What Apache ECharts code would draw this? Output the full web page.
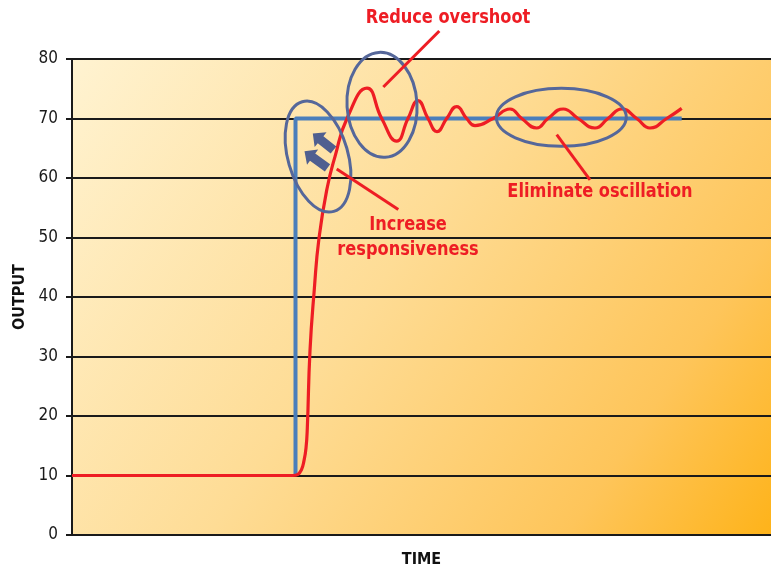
<!DOCTYPE html>
<html>
<head>
<meta charset="utf-8">
<script src="https://cdn.jsdelivr.net/npm/echarts@6/dist/echarts.min.js"></script>
<style>
html,body{margin:0;padding:0;background:#fff;overflow:hidden;}
#main{width:771px;height:573px;}
</style>
</head>
<body>
<div id="main"></div>
<script>
// ---- data ----
const yTicks = [0, 10, 20, 30, 40, 50, 60, 70, 80];
// process response (time, output)
const responseT = [0, 221, 226, 229.5, 232, 234, 235.3, 238, 242.3, 247, 255, 263, 275, 295,
  309.7, 324.7, 336, 346, 356, 365, 374.7, 384.7, 394.7, 403, 421, 438, 449.7, 464.7, 476, 491.3,
  506, 523, 536, 549.7, 564.7, 578, 594.7, 609.7];
const responseV = [10, 10, 10.2, 11, 12.5, 14.6, 17.9, 31, 41.3, 49.9, 58.2, 63.6, 70, 75.1,
  70, 66.2, 70, 73, 70, 67.8, 70, 72, 70, 68.8, 70, 71.6, 70, 68.4, 70, 71.6,
  70, 68.4, 70, 71.6, 70, 68.4, 70, 71.7];
// setpoint step
const setpointT = [223.5, 223.5, 609.7];
const setpointV = [10, 70, 70];

// annotations (data coordinates)
const labels = [
  { text: 'Reduce overshoot', at: [376, 87.0] },
  { text: 'Increase', at: [336, 52.2] },
  { text: 'responsiveness', at: [336, 48.0] },
  { text: 'Eliminate oscillation', at: [528, 57.6] }
];
const leaders = [
  [[311.3, 75.3], [367.3, 84.7]],
  [[264.7, 61.5], [326.3, 54.7]],
  [[484.7, 67.3], [518, 59.7]]
];
const ellipses = [
  { at: [246, 63.6], rx: 30, ry: 57, rot: 0.28 },
  { at: [310, 72.3], rx: 35, ry: 52.5, rot: 0.06 },
  { at: [489.3, 70.2], rx: 65, ry: 29, rot: 0 }
];
const arrows = [
  { tail: [261.5, 64.7], tip: [240.8, 67.5] },
  { tail: [255.5, 61.7], tip: [232.5, 64.5] }
];

const FONT = "'DejaVu Sans Condensed', 'DejaVu Sans', sans-serif";
const RED = '#ee1d24';
const ELL = '#55679a';

const chart = echarts.init(document.getElementById('main'));
const option = {
  animation: false,
  backgroundColor: '#ffffff',
  grid: {
    left: 72, right: 0, top: 59, bottom: 35,
    show: true, borderWidth: 0,
    backgroundColor: new echarts.graphic.LinearGradient(0, 0, 1, 1, [
      { offset: 0, color: '#fff3d1' },
      { offset: 0.45, color: '#fedc95' },
      { offset: 0.8, color: '#fec55a' },
      { offset: 1, color: '#feb31a' }
    ])
  },
  xAxis: {
    type: 'value', min: 0, max: 699,
    name: 'TIME', nameLocation: 'middle', nameGap: 17,
    nameTextStyle: { fontFamily: FONT, fontWeight: 'bold', fontSize: 16, color: '#111' },
    axisLine: { show: true, lineStyle: { color: '#1a1a1a', width: 2 } },
    axisTick: { show: false }, axisLabel: { show: false }, splitLine: { show: false }
  },
  yAxis: {
    type: 'value', min: 0, max: 80, interval: 10,
    name: 'OUTPUT', nameLocation: 'middle', nameGap: 43, nameRotate: 90,
    nameTextStyle: { fontFamily: FONT, fontWeight: 'bold', fontSize: 16, color: '#111' },
    axisLine: { show: true, lineStyle: { color: '#1a1a1a', width: 2 } },
    axisTick: { show: true, length: 6, lineStyle: { color: '#1a1a1a', width: 2 } },
    axisLabel: { fontFamily: FONT, fontSize: 17, color: '#1a1a1a', margin: 14,
      formatter: v => yTicks.includes(v) ? String(v) : '' },
    splitLine: { show: true, lineStyle: { color: '#1a1a1a', width: 2 } }
  },
  series: [
    {
      name: 'Setpoint', type: 'line', symbol: 'none',
      data: setpointT.map((t, i) => [t, setpointV[i]]),
      lineStyle: { color: '#4a7ebb', width: 4 }, z: 2
    },
    {
      name: 'Response', type: 'line', symbol: 'none', smooth: 0.5,
      data: responseT.map((t, i) => [t, responseV[i]]),
      lineStyle: { color: RED, width: 3.2 }, z: 3
    }
  ]
};
chart.setOption(option);

const px = p => chart.convertToPixel({ gridIndex: 0 }, p);
const g = [];
ellipses.forEach(e => {
  const c = px(e.at);
  g.push({ type: 'ellipse', x: c[0], y: c[1], rotation: e.rot,
    shape: { cx: 0, cy: 0, rx: e.rx, ry: e.ry },
    style: { fill: null, stroke: ELL, lineWidth: 3 }, z: 10 });
});
leaders.forEach(l => {
  const a = px(l[0]), b = px(l[1]);
  g.push({ type: 'line', shape: { x1: a[0], y1: a[1], x2: b[0], y2: b[1] },
    style: { stroke: RED, lineWidth: 3 }, z: 11 });
});
arrows.forEach(a => {
  const t0 = px(a.tail), t1 = px(a.tip);
  const dx = t1[0] - t0[0], dy = t1[1] - t0[1];
  const L = Math.hypot(dx, dy), ux = dx / L, uy = dy / L, nx = -uy, ny = ux;
  const hl = 10, sw = 4.5, hw = 9.5;
  const loc = [[0, -sw], [L - hl, -sw], [L - hl, -hw], [L, 0], [L - hl, hw], [L - hl, sw], [0, sw]];
  const pts = loc.map(([s, n]) => [t0[0] + ux * s + nx * n, t0[1] + uy * s + ny * n]);
  g.push({ type: 'polygon', shape: { points: pts }, style: { fill: '#4f5f90' }, z: 11 });
});
labels.forEach(l => {
  const c = px(l.at);
  g.push({ type: 'text', x: c[0], y: c[1], scaleX: 0.9,
    style: { text: l.text, fill: RED, font: 'bold 20px ' + FONT, textAlign: 'center', textVerticalAlign: 'middle' },
    z: 12 });
});
chart.setOption({ graphic: g });
</script>
</body>
</html>
